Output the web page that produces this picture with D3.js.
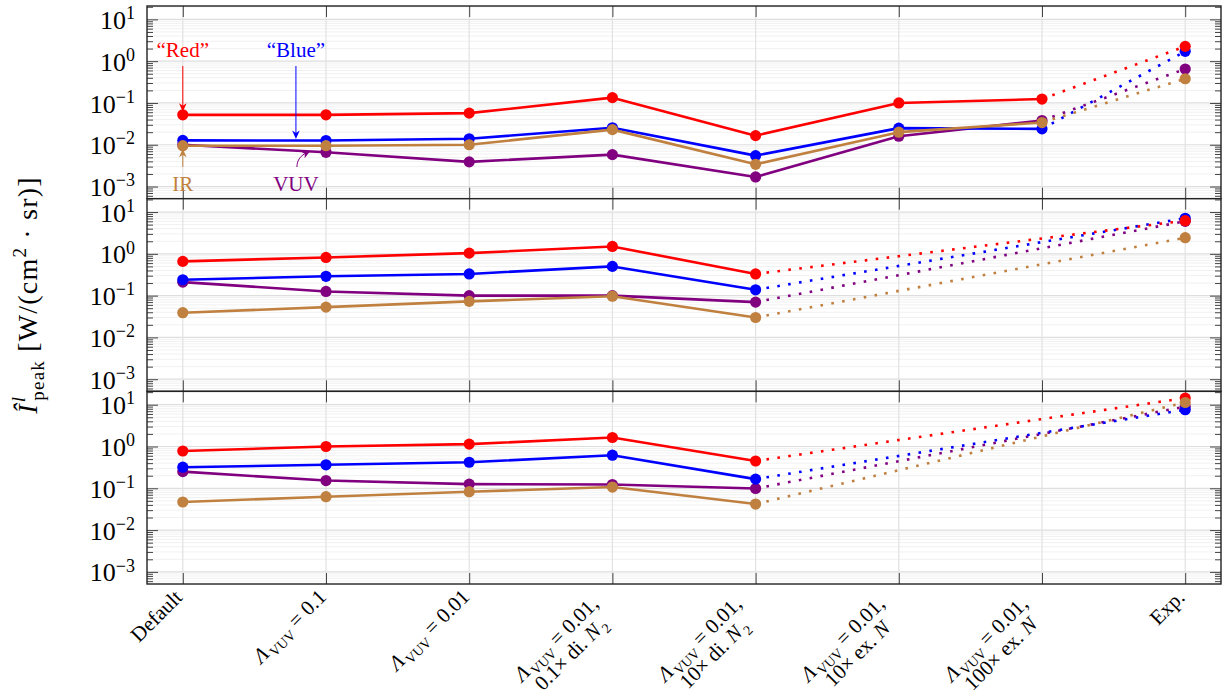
<!DOCTYPE html>
<html>
<head>
<meta charset="utf-8">
<script src="https://cdn.jsdelivr.net/npm/d3@7"></script>
<style>
  body { margin: 0; background: #fff; }
  svg { display: block; }
  text { font-family: "Liberation Serif", "DejaVu Serif", serif; fill: #000; }
</style>
</head>
<body>
<svg id="chart" width="1225" height="696"></svg>
<script>
// ---- categories (markup: *x* italic, _{x} subscript, \n new line) ----
const categoryLabels = [
  "Default",
  "*Λ*_{VUV} = 0.1",
  "*Λ*_{VUV} = 0.01",
  "*Λ*_{VUV} = 0.01,\n0.1× di. *N*_{2}",
  "*Λ*_{VUV} = 0.01,\n10× di. *N*_{2}",
  "*Λ*_{VUV} = 0.01,\n10× ex. *N*",
  "*Λ*_{VUV} = 0.01,\n100× ex. *N*",
  "Exp."
];
const expIndex = 7;

// ---- peak intensities, W/(cm^2 sr); null = not computed ----
// top panel
const vuvTop  = [0.0100, 0.0066, 0.0039, 0.0058, 0.0017, 0.016, 0.038, 0.65];
const blueTop = [0.0127, 0.0126, 0.0139, 0.0255, 0.0055, 0.025, 0.024, 1.72];
const redTop  = [0.052, 0.052, 0.057, 0.134, 0.0165, 0.10, 0.124, 2.26];
const irTop   = [0.0095, 0.0095, 0.010, 0.023, 0.0034, 0.020, 0.034, 0.38];
// middle panel
const vuvMid  = [0.21, 0.126, 0.10, 0.10, 0.070, null, null, 6.0];
const blueMid = [0.24, 0.29, 0.33, 0.50, 0.138, null, null, 7.1];
const redMid  = [0.66, 0.82, 1.04, 1.50, 0.33, null, null, 6.2];
const irMid   = [0.039, 0.053, 0.073, 0.097, 0.030, null, null, 2.43];
// bottom panel
const vuvBot  = [0.25, 0.153, 0.126, 0.123, 0.099, null, null, 9.0];
const blueBot = [0.32, 0.365, 0.42, 0.62, 0.166, null, null, 7.6];
const redBot  = [0.78, 1.00, 1.14, 1.64, 0.45, null, null, 14.4];
const irBot   = [0.047, 0.063, 0.083, 0.107, 0.042, null, null, 11.3];

const seriesNames  = ["VUV", "Blue", "Red", "IR"];          // drawing order
const seriesColors = ["#800080", "#0000ff", "#ff0000", "#bf8040"];
const panels = [
  [vuvTop, blueTop, redTop, irTop],
  [vuvMid, blueMid, redMid, irMid],
  [vuvBot, blueBot, redBot, irBot]
];

const decadeTicks = [1e-3, 1e-2, 1e-1, 1e0, 1e1];
const decadeExponents = ["−3", "−2", "−1", "0", "1"];

// ---- layout ----
const svg = d3.select("#chart");
const left = 147, right = 1221;
const plotTop = 6, plotBottom = 584;
const panelH = (plotBottom - plotTop) / panels.length;
const yDomain = [Math.pow(10, -3.29), Math.pow(10, 1.32)];

const x = d3.scaleLinear().domain([-0.25, 7.25]).range([left, right]);
const catIdx = d3.range(categoryLabels.length);

const minorTicks = [];
for (let e = -4; e <= 1; e++) for (let m = 2; m <= 9; m++) {
  const v = m * Math.pow(10, e);
  if (v > yDomain[0] && v < yDomain[1]) minorTicks.push(v);
}

function styleAxis(g) {
  g.select(".domain").remove();
  g.selectAll(".tick line").attr("stroke", "#444").attr("stroke-width", 1);
}

panels.forEach((series, p) => {
  const top = plotTop + p * panelH, bottom = top + panelH;
  const y = d3.scaleLog().domain(yDomain).range([bottom, top]);
  const g = svg.append("g");

  // grid
  g.append("g").selectAll("line").data(minorTicks).join("line")
    .attr("x1", left).attr("x2", right)
    .attr("y1", d => y(d)).attr("y2", d => y(d))
    .attr("stroke", "#f1f1f1").attr("stroke-width", 1);
  g.append("g").selectAll("line").data(decadeTicks).join("line")
    .attr("x1", left).attr("x2", right)
    .attr("y1", d => y(d)).attr("y2", d => y(d))
    .attr("stroke", "#dedede").attr("stroke-width", 1.2);
  g.append("g").selectAll("line").data(catIdx).join("line")
    .attr("x1", d => x(d)).attr("x2", d => x(d))
    .attr("y1", top).attr("y2", bottom)
    .attr("stroke", "#e2e2e2").attr("stroke-width", 1.2);

  // ticks, all pointing inwards
  g.append("g").attr("transform", `translate(${left},0)`)
    .call(d3.axisLeft(y).tickValues(minorTicks).tickSize(-6).tickFormat(""))
    .call(styleAxis);
  g.append("g").attr("transform", `translate(${right},0)`)
    .call(d3.axisRight(y).tickValues(minorTicks).tickSize(-6).tickFormat(""))
    .call(styleAxis);
  g.append("g").attr("transform", `translate(${right},0)`)
    .call(d3.axisRight(y).tickValues(decadeTicks).tickSize(-11).tickFormat(""))
    .call(styleAxis);
  const yAx = g.append("g").attr("transform", `translate(${left},0)`)
    .call(d3.axisLeft(y).tickValues(decadeTicks).tickSize(-11).tickPadding(12).tickFormat(""))
    .call(styleAxis);
  yAx.selectAll(".tick text")
    .attr("font-size", 26).attr("fill", "#000").attr("dy", "0.35em")
    .attr("font-family", "Liberation Serif, serif")
    .each(function (d, i) {
      const t = d3.select(this);
      t.append("tspan").text("10");
      t.append("tspan").attr("font-size", 18).attr("dy", "-0.55em").text(decadeExponents[i]);
    });
  g.append("g").attr("transform", `translate(0,${bottom})`)
    .call(d3.axisBottom(x).tickValues(catIdx).tickSize(-11).tickFormat(""))
    .call(styleAxis);
  g.append("g").attr("transform", `translate(0,${top})`)
    .call(d3.axisTop(x).tickValues(catIdx).tickSize(-11).tickFormat(""))
    .call(styleAxis);

  // frame
  g.append("rect").attr("x", left).attr("y", top)
    .attr("width", right - left).attr("height", panelH)
    .attr("fill", "none").attr("stroke", "#222").attr("stroke-width", 1.4);

  // series
  const line = d3.line().defined(d => d.v != null).x(d => x(d.i)).y(d => y(d.v));
  series.forEach((vals, s) => {
    const pts = vals.map((v, i) => ({ i, v }));
    const sim = pts.slice(0, expIndex);
    const lastSim = sim.filter(d => d.v != null).pop();
    const sg = g.append("g").attr("class", "series-" + seriesNames[s]);
    sg.append("path").datum(sim).attr("d", line)
      .attr("fill", "none").attr("stroke", seriesColors[s])
      .attr("stroke-width", 2.6).attr("stroke-linejoin", "round");
    sg.append("path").datum([lastSim, pts[expIndex]]).attr("d", line)
      .attr("fill", "none").attr("stroke", seriesColors[s])
      .attr("stroke-width", 2.6).attr("stroke-dasharray", "2.6 8.4");
    sg.selectAll("circle").data(pts.filter(d => d.v != null)).join("circle")
      .attr("cx", d => x(d.i)).attr("cy", d => y(d.v)).attr("r", 5.6)
      .attr("fill", seriesColors[s]);
  });

  if (p === 0) drawAnnotations(g, y);
});

// ---- annotations in the top panel ----
function arrowHead(g, xTip, yTip, angleDeg, color) {
  g.append("path")
    .attr("d", "M0,0 L-3.8,-8.5 L0,-6 L3.8,-8.5 Z")
    .attr("transform", `translate(${xTip},${yTip}) rotate(${angleDeg})`)
    .attr("fill", color);
}
function drawAnnotations(g, y) {
  const fs = 21;
  const red = seriesColors[2], blue = seriesColors[1], vuv = seriesColors[0], ir = seriesColors[3];
  const xr = x(0), xb = x(0.79);
  g.append("text").attr("x", xr).attr("y", 57).attr("text-anchor", "middle")
    .attr("font-size", fs).style("fill", red).text("“Red”");
  g.append("line").attr("x1", xr).attr("x2", xr).attr("y1", 66).attr("y2", y(redTop[0]) - 8)
    .attr("stroke", red).attr("stroke-width", 1);
  arrowHead(g, xr, y(redTop[0]) - 3, 0, red);

  g.append("text").attr("x", xb).attr("y", 57).attr("text-anchor", "middle")
    .attr("font-size", fs).style("fill", blue).text("“Blue”");
  g.append("line").attr("x1", xb).attr("x2", xb).attr("y1", 66).attr("y2", y(blueTop[0]) - 6)
    .attr("stroke", blue).attr("stroke-width", 1);
  arrowHead(g, xb, y(blueTop[0]) - 1.5, 0, blue);

  g.append("text").attr("x", xr).attr("y", 191).attr("text-anchor", "middle")
    .attr("font-size", fs).style("fill", ir).text("IR");
  g.append("line").attr("x1", xr).attr("x2", xr).attr("y1", 167).attr("y2", y(irTop[0]) + 8)
    .attr("stroke", ir).attr("stroke-width", 1);
  arrowHead(g, xr, y(irTop[0]) + 3, 180, ir);

  g.append("text").attr("x", xb).attr("y", 191).attr("text-anchor", "middle")
    .attr("font-size", fs).style("fill", vuv).text("VUV");
  const tipX = x(0.89), tipY = 151;
  g.append("path")
    .attr("d", `M${xb + 1},167 C${xb + 1},160 ${xb + 5},155 ${tipX - 3},${tipY + 1.6}`)
    .attr("fill", "none").attr("stroke", vuv).attr("stroke-width", 1);
  arrowHead(g, tipX, tipY, 180 + 62, vuv);
}

// ---- category labels, rotated 45 degrees ----
const labelFs = 21, labelLh = 21, subFs = 14;
function addRich(textSel, str) {
  const re = /(\*[^*]+\*|_\{[^}]+\}|[^*_]+)/g;
  let m, lowered = false;
  while ((m = re.exec(str)) !== null) {
    const tok = m[0];
    let t;
    if (tok.startsWith("_{")) {
      textSel.append("tspan").attr("font-size", subFs).attr("dy", "5").attr("dx", "2").text(tok.slice(2, -1));
      lowered = true;
      continue;
    }
    if (tok.startsWith("*")) t = textSel.append("tspan").attr("font-style", "italic").text(tok.slice(1, -1));
    else t = textSel.append("tspan").text(tok);
    if (lowered) { t.attr("dy", "-5"); lowered = false; }
  }
}
const xl = svg.append("g").attr("class", "x-labels");
categoryLabels.forEach((lab, i) => {
  const lines = lab.split("\n");
  const multi = lines.length > 1;
  // upper-right corner of the label block sits just below the tick
  const lg = xl.append("g").attr("transform", `translate(${x(i) - 10},${plotBottom + 4}) rotate(-45)`);
  const texts = lines.map((ln, k) => {
    const t = lg.append("text").attr("font-size", labelFs)
      .attr("y", k * labelLh + labelFs * 0.72 - (multi ? 5 : 0));
    addRich(t, ln);
    return t;
  });
  const widths = texts.map(t => t.node().getComputedTextLength());
  const w = d3.max(widths) + (multi ? 30 : 0);
  texts.forEach(t => t.attr("text-anchor", "middle").attr("x", -w / 2));
});

// ---- y axis title ----
const yt = svg.append("text")
  .attr("transform", `translate(37,${(plotTop + plotBottom) / 2}) rotate(-90)`)
  .attr("text-anchor", "middle").attr("font-size", 28).attr("letter-spacing", 1.2);
yt.append("tspan").attr("font-style", "italic").text("Î");
yt.append("tspan").attr("font-style", "italic").attr("font-size", 19).attr("dy", -12).attr("dx", 1).text("l");
yt.append("tspan").attr("font-size", 19).attr("dy", 19).attr("dx", -5).text("peak");
yt.append("tspan").attr("dy", -7).text(" [W/(cm");
yt.append("tspan").attr("font-size", 19).attr("dy", -11).text("2");
yt.append("tspan").attr("dy", 11).text("  ·  sr)]");
</script>
</body>
</html>
